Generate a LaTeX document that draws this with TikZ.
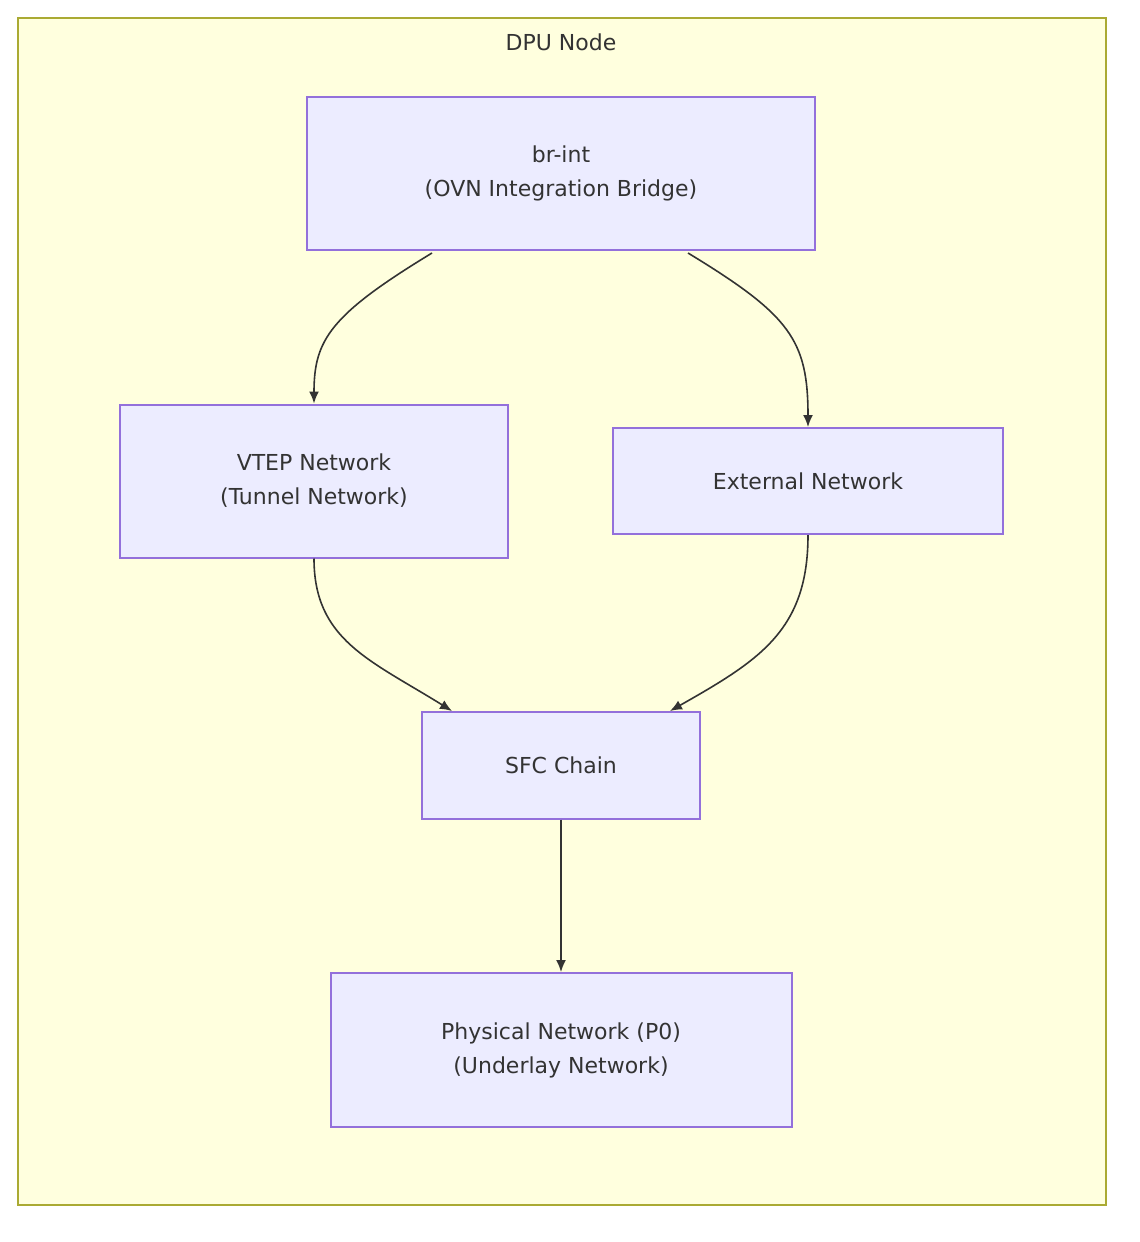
\documentclass[tikz,border=0pt]{standalone}
\usepackage{fontspec}
\setmainfont{DejaVu Sans}
\usetikzlibrary{arrows.meta}
\definecolor{clfill}{HTML}{FFFFDE}
\definecolor{clline}{HTML}{AAAA33}
\definecolor{nfill}{HTML}{ECECFF}
\definecolor{nline}{HTML}{9370DB}
\definecolor{txt}{HTML}{333333}
\begin{document}
\begin{tikzpicture}[x=1pt,y=-1pt,
  box/.style={draw=nline,fill=nfill,line width=2pt,text=txt,align=center,font=\fontsize{22}{34}\selectfont,inner sep=0pt},
  arr/.style={draw=txt,line width=1.6pt,-{Latex[length=12pt,width=10pt]}}]
\useasboundingbox (0,0) rectangle (1140,1242);
\draw[clline,fill=clfill,line width=2pt] (18,18) rectangle (1106,1205);
\node[text=txt,font=\fontsize{22}{28}\selectfont] (title) at (561,42) {DPU Node};
\node[box,minimum width=508pt,minimum height=153pt] (br) at (561,173) {br-int\\(OVN Integration Bridge)};
\node[box,minimum width=388pt,minimum height=153pt] (vtep) at (314,481) {VTEP Network\\(Tunnel Network)};
\node[box,minimum width=390pt,minimum height=106pt] (ext) at (808,481) {External Network};
\node[box,minimum width=278pt,minimum height=107pt] (sfc) at (561,765) {SFC Chain};
\node[box,minimum width=461pt,minimum height=154pt] (phy) at (561,1050) {Physical Network (P0)\\(Underlay Network)};
\coordinate (b1) at (432,253);
\coordinate (b2) at (688,253);
\coordinate (s1) at (452,711);
\coordinate (s2) at (670,711);
\draw[arr] (b1) .. controls (330,315) and (314,340) .. (vtep.north);
\draw[arr] (b2) .. controls (790,315) and (808,340) .. (ext.north);
\draw[arr] (vtep.south) .. controls (314,640) and (370,660) .. (s1);
\draw[arr] (ext.south) .. controls (808,630) and (760,660) .. (s2);
\draw[arr] (sfc.south) -- (phy.north);
\end{tikzpicture}
\end{document}
